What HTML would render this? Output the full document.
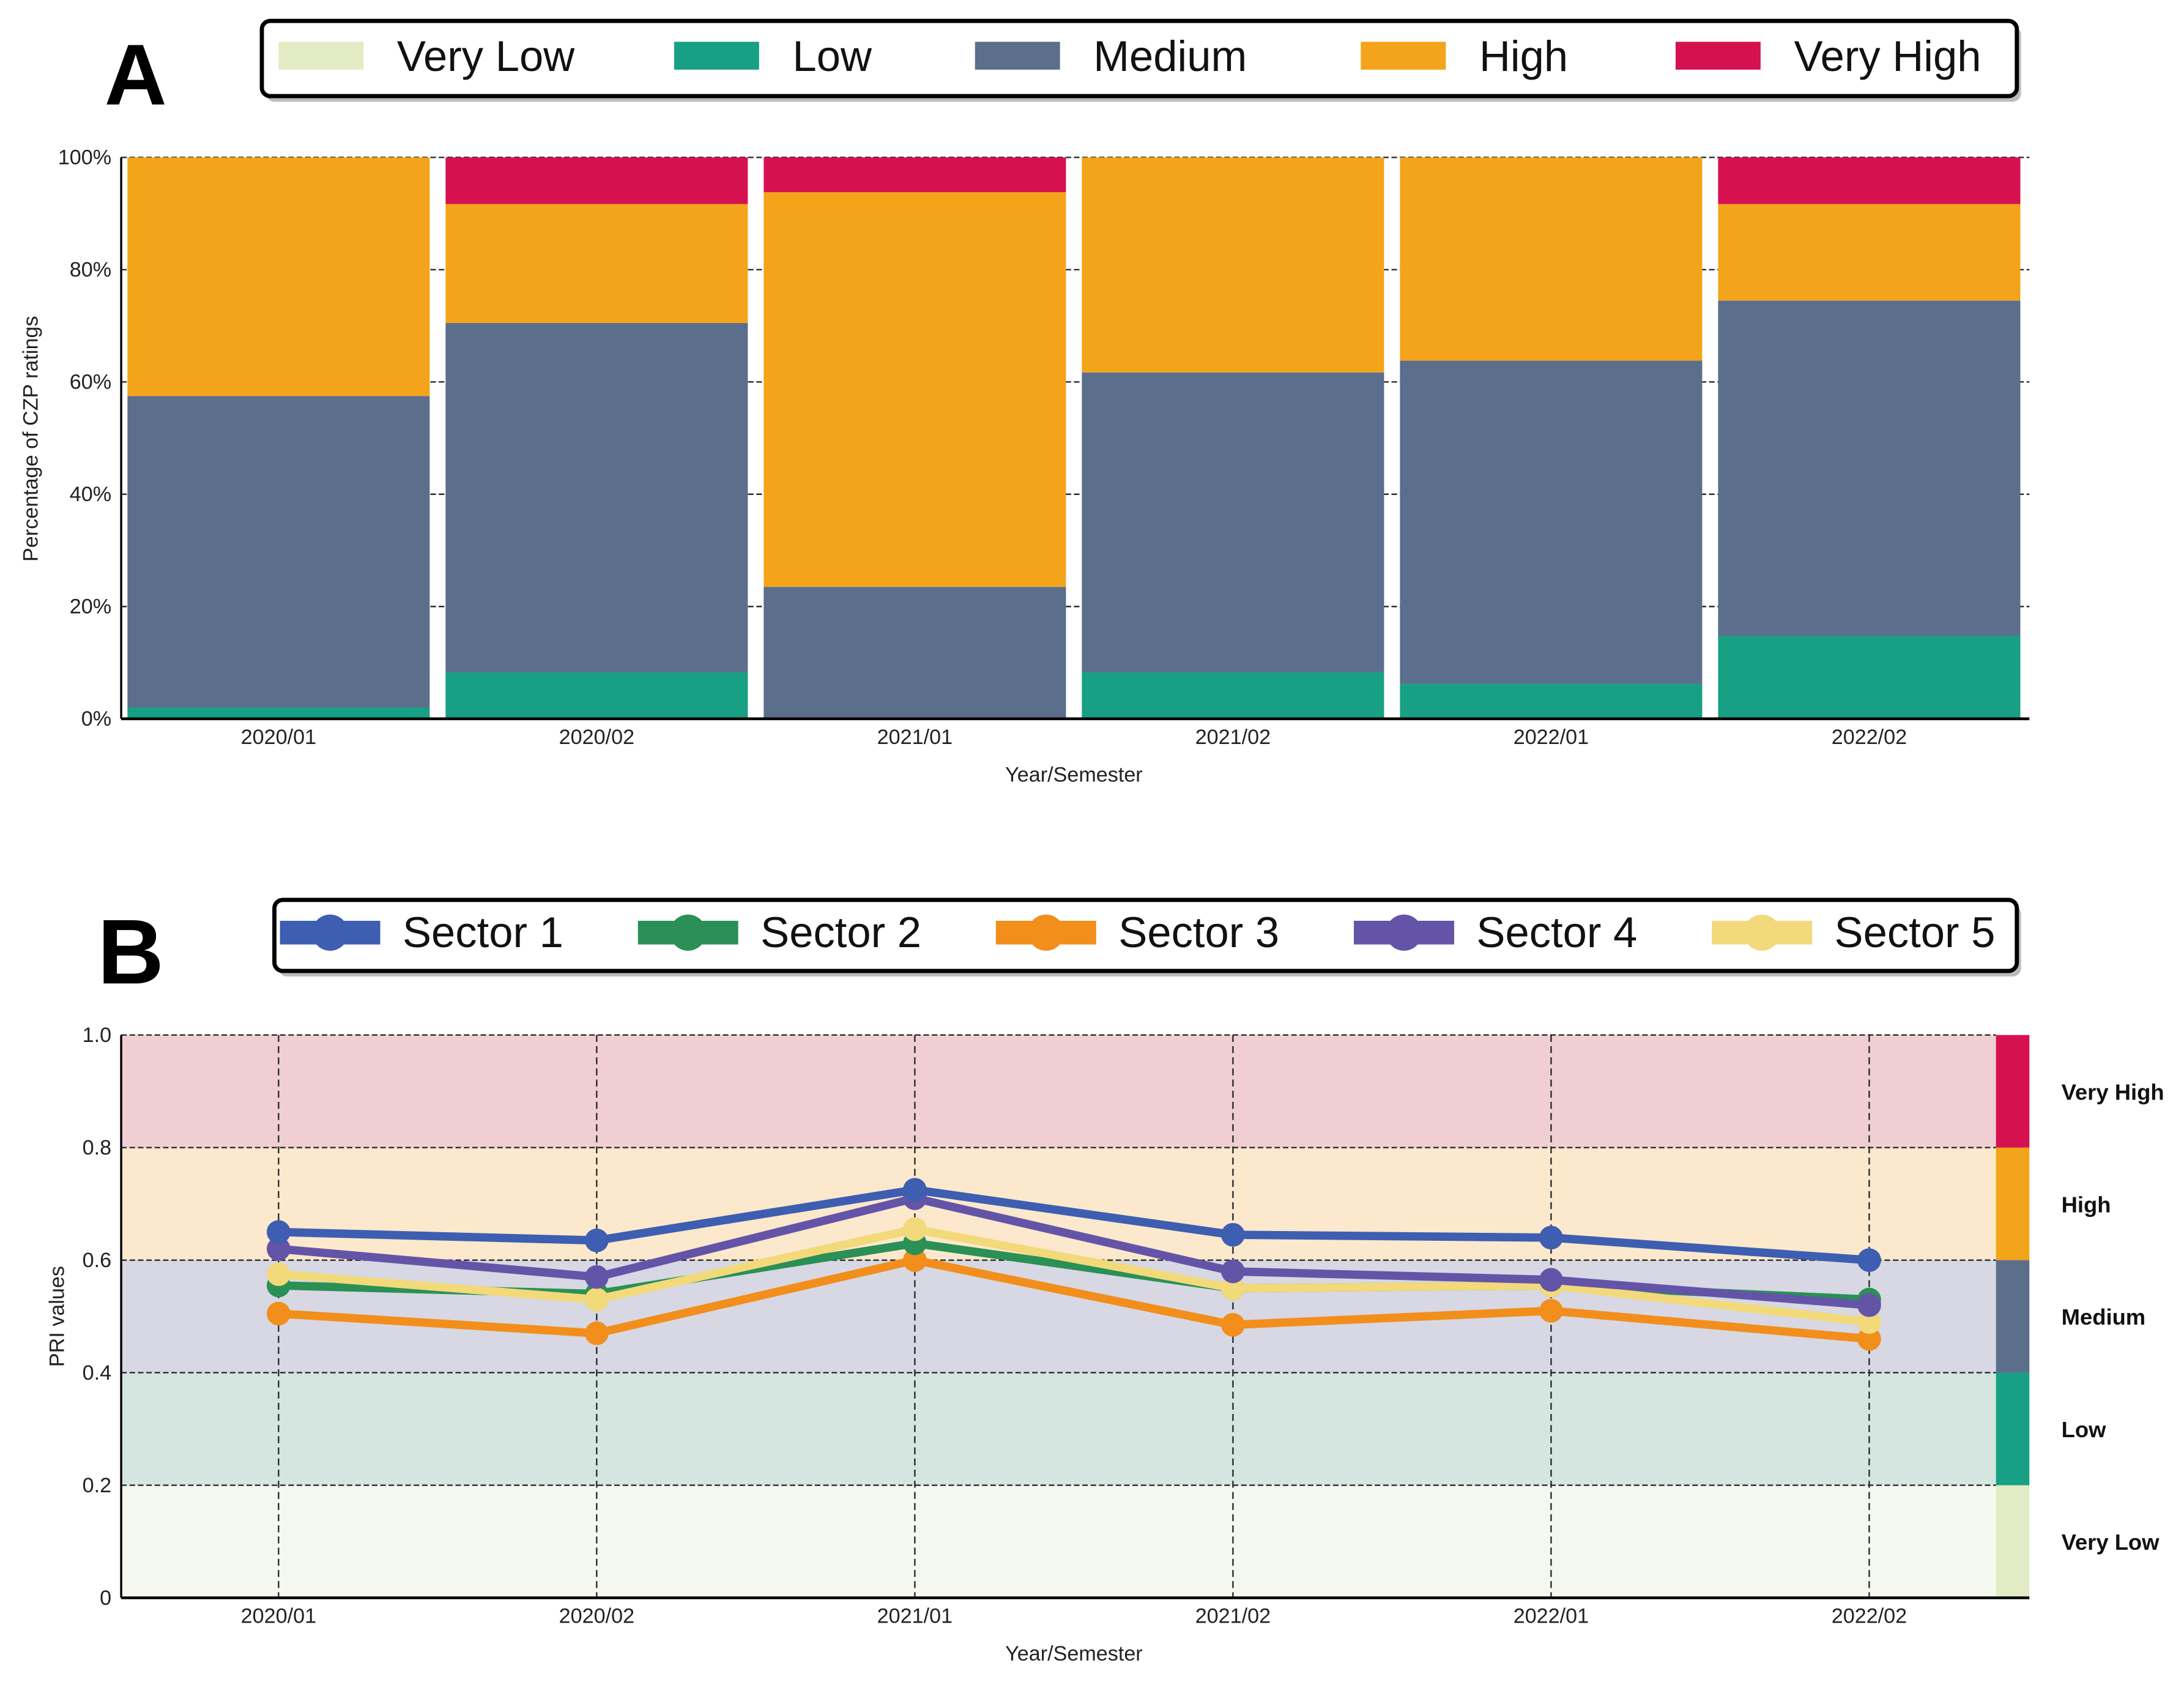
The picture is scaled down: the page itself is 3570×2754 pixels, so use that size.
<!DOCTYPE html>
<html><head><meta charset="utf-8"><style>
html,body{margin:0;padding:0;background:#fff}
svg{display:block;font-family:"Liberation Sans",sans-serif}
</style></head><body>
<svg id="fig" width="3570" height="2754" viewBox="0 0 1568 1209.6" xmlns="http://www.w3.org/2000/svg">
<rect width="1568" height="1210" fill="#fff"/>
<g id="panelA"></g>
<g id="panelB"></g>
</svg>
<script>
const categories = ["2020/01","2020/02","2021/01","2021/02","2022/01","2022/02"];
const lowVals = [2, 8.3, 0, 8.3, 6.2, 14.8];
const mediumVals = [55.5, 62.2, 23.5, 53.4, 57.6, 59.7];
const highVals = [42.5, 21.2, 70.3, 38.3, 36.2, 17.2];
const veryHighVals = [0, 8.3, 6.2, 0, 0, 8.3];
const pctTicks = [0,20,40,60,80,100];
const sector1 = [0.65, 0.635, 0.725, 0.645, 0.64, 0.60];
const sector2 = [0.555, 0.54, 0.63, 0.55, 0.555, 0.53];
const sector3 = [0.505, 0.47, 0.60, 0.485, 0.51, 0.46];
const sector4 = [0.62, 0.57, 0.71, 0.58, 0.565, 0.52];
const sector5 = [0.575, 0.53, 0.655, 0.55, 0.555, 0.49];
const priTicks = [0,0.2,0.4,0.6,0.8,1.0];
const riskLevels = ["Very Low","Low","Medium","High","Very High"];

const NS="http://www.w3.org/2000/svg";
function mk(parent,tag,attrs,text){const e=document.createElementNS(NS,tag);for(const k in attrs)e.setAttribute(k,attrs[k]);if(text!==undefined)e.textContent=text;parent.appendChild(e);return e;}
const A=document.getElementById('panelA'), B=document.getElementById('panelB');
const levelColors=["#e2ebc4","#17a083","#5b6e8c","#f4a41a","#d6114f"];
const bandColors=["#f5f8ee","#d4e6df","#d7d8e3","#fce8cc","#f0ced3"];
const x0=87,x1=1457, step=228.4, cx0=200;
const xc=i=>cx0+i*step;

// ---------- Panel A ----------
let t=mk(A,'text',{x:75,y:75,'font-size':62,'font-weight':'bold'},'A');

let lg=mk(A,'g',{});

mk(lg,'rect',{x:191,y:19,width:1260,height:54,rx:6,fill:'#bbb'});
mk(lg,'rect',{x:188,y:15,width:1260,height:54,rx:6,fill:'#fff',stroke:'#000','stroke-width':3});
const lgA=[[200,285],[484,569],[700,785],[977,1062],[1203,1288]];
riskLevels.forEach((n,i)=>{
  const g=mk(lg,'g',{});
  
  
  mk(g,'rect',{x:lgA[i][0],y:30,width:61,height:20,fill:levelColors[i]});
  mk(g,'text',{x:lgA[i][1],y:51,'font-size':31,fill:'#111'},n);
});
const ayT=113, ayB=516;
const ya=v=>ayB-(v/100)*(ayB-ayT);
pctTicks.forEach(v=>{
  if(v>0){const l=mk(A,'line',{x1:x0,x2:x1,y1:ya(v),y2:ya(v),stroke:'#222','stroke-width':1,'stroke-dasharray':'4,2'});
  }
  const tt=mk(A,'text',{x:80,y:ya(v)+5,'font-size':15,'text-anchor':'end',fill:'#222'},v+'%');
  
});
const stacks=[lowVals,mediumVals,highVals,veryHighVals];
categories.forEach((c,i)=>{
  let base=0;
  stacks.forEach((arr,s)=>{
    const v=arr[i]; if(v<=0)return;
    const r=mk(A,'rect',{x:xc(i)-108.5,y:ya(base+v),width:217,height:ya(base)-ya(base+v),fill:levelColors[s+1]});
    
    
    base+=v;
  });
  const tl=mk(A,'text',{x:xc(i),y:534,'font-size':15,'text-anchor':'middle',fill:'#222'},c);
  
});
let ax=mk(A,'line',{x1:x0,x2:x1,y1:ayB,y2:ayB,stroke:'#000','stroke-width':2});

ax=mk(A,'line',{x1:x0,x2:x0,y1:ayT,y2:ayB,stroke:'#000','stroke-width':1.5});

t=mk(A,'text',{x:771,y:561,'font-size':15,'text-anchor':'middle',fill:'#222'},'Year/Semester');

t=mk(A,'text',{x:0,y:0,'font-size':15,'text-anchor':'middle',fill:'#222',transform:'translate(27,315) rotate(-90)'},'Percentage of CZP ratings');


// ---------- Panel B ----------
t=mk(B,'text',{x:70,y:706,'font-size':66,'font-weight':'bold'},'B');

const byT=743, byB=1147;
const yb=v=>byB-v*(byB-byT);
for(let k=0;k<5;k++){
  const r=mk(B,'rect',{x:x0,y:yb((k+1)*0.2),width:1433-x0,height:yb(k*0.2)-yb((k+1)*0.2),fill:bandColors[k]});
  
  const cb=mk(B,'rect',{x:1433,y:yb((k+1)*0.2),width:24,height:yb(k*0.2)-yb((k+1)*0.2),fill:levelColors[k]});
  
  const lt=mk(B,'text',{x:1480,y:yb(k*0.2+0.1)+6,'font-size':16,'font-weight':'bold',fill:'#111'},riskLevels[k]);
  
}
priTicks.forEach(v=>{
  if(v>0){const l=mk(B,'line',{x1:x0,x2:1433,y1:yb(v),y2:yb(v),stroke:'#222','stroke-width':1,'stroke-dasharray':'4,2'});
  }
  const tt=mk(B,'text',{x:80,y:yb(v)+5,'font-size':15,'text-anchor':'end',fill:'#222'},v===0?'0':v.toFixed(1));
  
});
categories.forEach((c,i)=>{
  const l=mk(B,'line',{x1:xc(i),x2:xc(i),y1:byT,y2:byB,stroke:'#222','stroke-width':1,'stroke-dasharray':'5,3'});
  
  const tl=mk(B,'text',{x:xc(i),y:1165,'font-size':15,'text-anchor':'middle',fill:'#222'},c);
  
});
const series=[["Sector 3",sector3,"#f28e1c"],["Sector 2",sector2,"#2a9055"],["Sector 5",sector5,"#f2d97a"],["Sector 4",sector4,"#6454a8"],["Sector 1",sector1,"#3d5eb1"]];
series.forEach(([n,vals,col])=>{
  const g=mk(B,'g',{});
  
  
  mk(g,'polyline',{points:vals.map((v,i)=>xc(i)+','+yb(v)).join(' '),fill:'none',stroke:col,'stroke-width':6,'stroke-linejoin':'round'});
  vals.forEach((v,i)=>{
    const p=mk(g,'circle',{cx:xc(i),cy:yb(v),r:8.5,fill:col});
    
    
  });
});
ax=mk(B,'line',{x1:x0,x2:x1,y1:byB,y2:byB,stroke:'#000','stroke-width':2});

ax=mk(B,'line',{x1:x0,x2:x0,y1:byT,y2:byB,stroke:'#000','stroke-width':1.5});

t=mk(B,'text',{x:771,y:1192,'font-size':15,'text-anchor':'middle',fill:'#222'},'Year/Semester');

t=mk(B,'text',{x:0,y:0,'font-size':15,'text-anchor':'middle',fill:'#222',transform:'translate(46,945) rotate(-90)'},'PRI values');

// legend B
lg=mk(B,'g',{});

mk(lg,'rect',{x:200,y:650,width:1251,height:51,rx:6,fill:'#bbb'});
mk(lg,'rect',{x:197,y:646,width:1251,height:51,rx:6,fill:'#fff',stroke:'#000','stroke-width':3});
const legOrder=[["Sector 1","#3d5eb1"],["Sector 2","#2a9055"],["Sector 3","#f28e1c"],["Sector 4","#6454a8"],["Sector 5","#f2d97a"]];
legOrder.forEach(([n,col],i)=>{
  const sx=201+i*257;
  const g=mk(lg,'g',{});
  
  
  mk(g,'rect',{x:sx,y:661,width:72,height:17,fill:col});
  mk(g,'circle',{cx:sx+36,cy:669.5,r:13,fill:col});
  mk(g,'text',{x:sx+88,y:680,'font-size':31,fill:'#111'},n);
});
</script>
</body></html>
